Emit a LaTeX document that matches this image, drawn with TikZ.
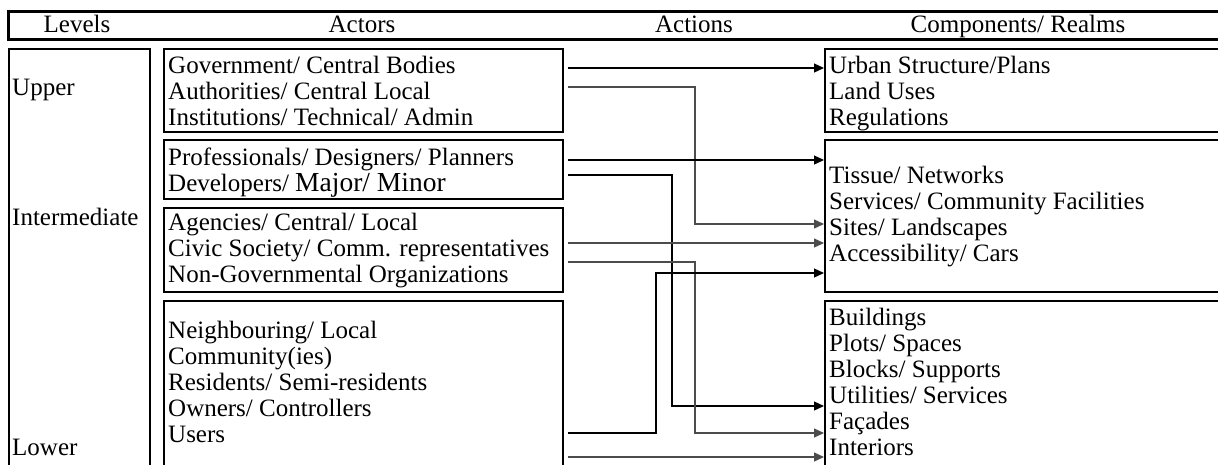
\documentclass[tikz,border=0pt]{standalone}
\usepackage{fontspec}
\setmainfont{Liberation Serif}
\usetikzlibrary{arrows.meta}

\begin{document}
\begin{tikzpicture}[x=1pt,y=-1pt,
		font=\fontsize{25}{26}\selectfont,
		box/.style={draw,line width=2pt,anchor=north west,inner sep=0pt},
		lines/.style={align=left,anchor=north west,inner sep=0pt},
		flow/.style={line width=1.2pt,-{Triangle[length=10pt,width=9pt]}},
		faint/.style={flow,color=black!70}]
	\useasboundingbox (0,0) rectangle (1218,464);
	\node[box,line width=2.5pt,minimum width=1216pt,minimum height=28pt] (head) at (7,10) {};
	\node[anchor=base,inner sep=0pt] (hlevels) at (77,32) {Levels};
	\node[anchor=base,inner sep=0pt] (hactors) at (362,32) {Actors};
	\node[anchor=base,inner sep=0pt] (hactions) at (694,32) {Actions};
	\node[anchor=base,inner sep=0pt] (hrealms) at (1018,32) {Components/ Realms};

	\node[box,minimum width=141pt,minimum height=440pt] (lvlbox) at (8,48) {};
	\node[inner sep=0pt,anchor=west] (upper) at (12,90) {Upper};
	\node[inner sep=0pt,anchor=west] (inter) at (12,217) {Intermediate};
	\node[inner sep=0pt,anchor=west] (lower) at (12,447) {Lower};

	\node[box,minimum width=399pt,minimum height=83pt] (govbox) at (163,48) {};
	\node[box,minimum width=399pt,minimum height=59pt] (probox) at (163,139) {};
	\node[box,minimum width=399pt,minimum height=84pt] (agbox) at (163,207) {};
	\node[box,minimum width=399pt,minimum height=190pt] (neibox) at (163,300) {};
	\node[lines] (gov) at (168,56) {Government/ Central Bodies\\Authorities/ Central Local\\Institutions/ Technical/ Admin};
	\node[lines] (pro) at (168,148) {Professionals/ Designers/ Planners\\Developers/ {\fontsize{27.5}{26}\selectfont Major/ Minor}};
	\node[lines] (ag) at (168,213) {Agencies/ Central/ Local\\Civic Society/ Comm. representatives\\Non-Governmental Organizations};
	\node[lines] (nei) at (168,321) {Neighbouring/ Local\\Community(ies)\\Residents/ Semi-residents\\Owners/ Controllers\\Users};

	\node[box,minimum width=399pt,minimum height=83pt] (urbanbox) at (824,48) {};
	\node[box,minimum width=399pt,minimum height=152pt] (tissuebox) at (824,139) {};
	\node[box,minimum width=399pt,minimum height=190pt] (buildbox) at (824,300) {};
	\node[lines] (urban) at (829,56) {Urban Structure/Plans\\Land Uses\\Regulations};
	\node[lines] (tissue) at (829,166) {Tissue/ Networks\\Services/ Community Facilities\\Sites/ Landscapes\\Accessibility/ Cars};
	\node[lines] (build) at (829,308) {Buildings\\Plots/ Spaces\\Blocks/ Supports\\Utilities/ Services\\Façades\\Interiors};

	\coordinate (a1) at (568,68);
	\coordinate (a2) at (568,87);
	\coordinate (a3) at (568,160);
	\coordinate (a4) at (568,175);
	\coordinate (a5) at (568,243);
	\coordinate (a6) at (568,262);
	\coordinate (a7) at (568,433);
	\coordinate (a8) at (568,457);
	\coordinate (k2) at (695,224);
	\coordinate (k4) at (672,406);
	\coordinate (k6) at (695,433);
	\coordinate (k7) at (656,273);

	\draw[flow] (a1) -- (a1 -| urbanbox.west);
	\draw[faint] (a2) -| (k2) -- (k2 -| tissuebox.west);
	\draw[flow] (a3) -- (a3 -| tissuebox.west);
	\draw[flow] (a4) -| (k4) -- (k4 -| buildbox.west);
	\draw[faint] (a5) -- (a5 -| tissuebox.west);
	\draw[faint] (a6) -| (k6) -- (k6 -| buildbox.west);
	\draw[flow] (a7) -| (k7) -- (k7 -| tissuebox.west);
	\draw[faint] (a8) -- (a8 -| buildbox.west);
\end{tikzpicture}
\end{document}
